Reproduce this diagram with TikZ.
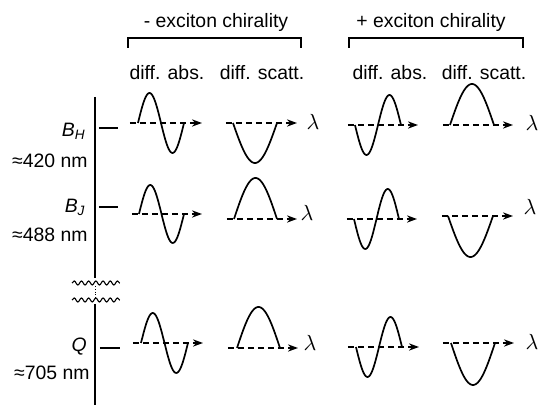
\documentclass[tikz,border=0pt]{standalone}
\usepackage{fontspec}
\setmainfont{Liberation Sans}
\usetikzlibrary{arrows.meta,decorations.pathmorphing}

% one period of a sine (x0, y0, width, amplitude up)
\newcommand{\sinecurve}[4]{%
  \draw[curve, shift={(#1,#2)}] plot[domain=0:#3, samples=49] (\x, {-(#4)*sin(\x/#3*360)});}
% half period: arch (amplitude > 0) or bowl (amplitude < 0)
\newcommand{\archcurve}[4]{%
  \draw[curve, shift={(#1,#2)}] plot[domain=0:#3, samples=49] (\x, {-(#4)*sin(\x/#3*180)});}

\begin{document}
\begin{tikzpicture}[x=0.5pt, y=-0.5pt,
        txt/.style={font=\fontsize{9.7}{11}\selectfont, inner sep=0pt},
        lam/.style={font=\fontsize{11}{12}\selectfont, inner sep=0pt},
        curve/.style={line width=0.85pt},
        axis/.style={dash pattern=on 3pt off 2pt, line width=0.75pt, -{Stealth[length=5pt, width=3.6pt]}},
        bracket/.style={line width=0.75pt},
        wave/.style={decorate, decoration={snake, amplitude=1pt, segment length=3.6pt}, line width=0.55pt}
    ]
    \useasboundingbox (0,0) rectangle (538,405);
    % headers
    \node[txt, anchor=base] (minus) at (216,28) {- exciton chirality};
    \node[txt, anchor=base] (plus) at (431,28) {+ exciton chirality};
    \draw[bracket] (128,48) |- (301,38) -- (301,48);
    \draw[bracket] (349,48) |- (523,38) -- (523,48);
    \node[txt, anchor=base] (abs1) at (167,80) {diff. abs.};
    \node[txt, anchor=base] (scat1) at (262,80) {diff. scatt.};
    \node[txt, anchor=base] (abs2) at (390,80) {diff. abs.};
    \node[txt, anchor=base] (scat2) at (484,80) {diff. scatt.};
    % energy axis with break
    \draw[line width=1pt] (95,97) -- (95,278);
    \draw[line width=0.4pt, densely dotted] (95,286) -- (95,298);
    \draw[line width=1pt] (95,304) -- (95,405);
    \draw[wave] (72,283) -- (120,283);
    \draw[wave] (72,300) -- (120,300);
    \draw[line width=0.6pt] (99,128) -- (118,128);
    \draw[line width=0.6pt] (99,207) -- (118,207);
    \draw[line width=1pt] (100,348) -- (120,348);
    \node[txt, anchor=base east] (bh) at (86,137) {\textit{B}\textsubscript{\textit{H}}};
    \node[txt, anchor=base east] (bhnm) at (88,168) {≈420 nm};
    \node[txt, anchor=base east] (bj) at (86,213) {\textit{B}\textsubscript{\textit{J}}};
    \node[txt, anchor=base east] (bjnm) at (88,242) {≈488 nm};
    \node[txt, anchor=base east] (q) at (87,352) {\textit{Q}};
    \node[txt, anchor=base east] (qnm) at (90,380) {≈705 nm};
    % row B_H
    \draw[axis] (130,123) -- (202,123);
    \draw[axis] (226,123) -- (297,123);
    \draw[axis] (348,125) -- (418,125);
    \draw[axis] (443,125) -- (513,125);
    \sinecurve{138}{123}{46}{30}
    \archcurve{233}{123}{44}{-40}
    \sinecurve{355}{125}{46}{-30}
    \archcurve{450}{125}{44}{41}
    \node[lam] (lh1) at (313,122) {$\lambda$};
    \node[lam] (lh2) at (532,123) {$\lambda$};
    % row B_J
    \draw[axis] (132,214) -- (202,214);
    \draw[axis] (227,219) -- (297,219);
    \draw[axis] (347,219) -- (417,219);
    \draw[axis] (442,216) -- (513,216);
    \sinecurve{139}{214}{45}{29}
    \archcurve{234}{219}{43}{41}
    \sinecurve{354}{219}{45}{-30}
    \archcurve{448}{216}{45}{-41}
    \node[lam] (lj1) at (307,213) {$\lambda$};
    \node[lam] (lj2) at (530,207) {$\lambda$};
    % row Q
    \draw[axis] (133,343) -- (203,343);
    \draw[axis] (228,348) -- (298,348);
    \draw[axis] (348,347) -- (419,347);
    \draw[axis] (443,343) -- (514,343);
    \sinecurve{141}{343}{47}{30}
    \archcurve{237}{348}{43}{41}
    \sinecurve{356}{347}{46}{-30}
    \archcurve{451}{343}{44}{-42}
    \node[lam] (lq1) at (310,343) {$\lambda$};
    \node[lam] (lq2) at (532,342) {$\lambda$};
\end{tikzpicture}
\end{document}
